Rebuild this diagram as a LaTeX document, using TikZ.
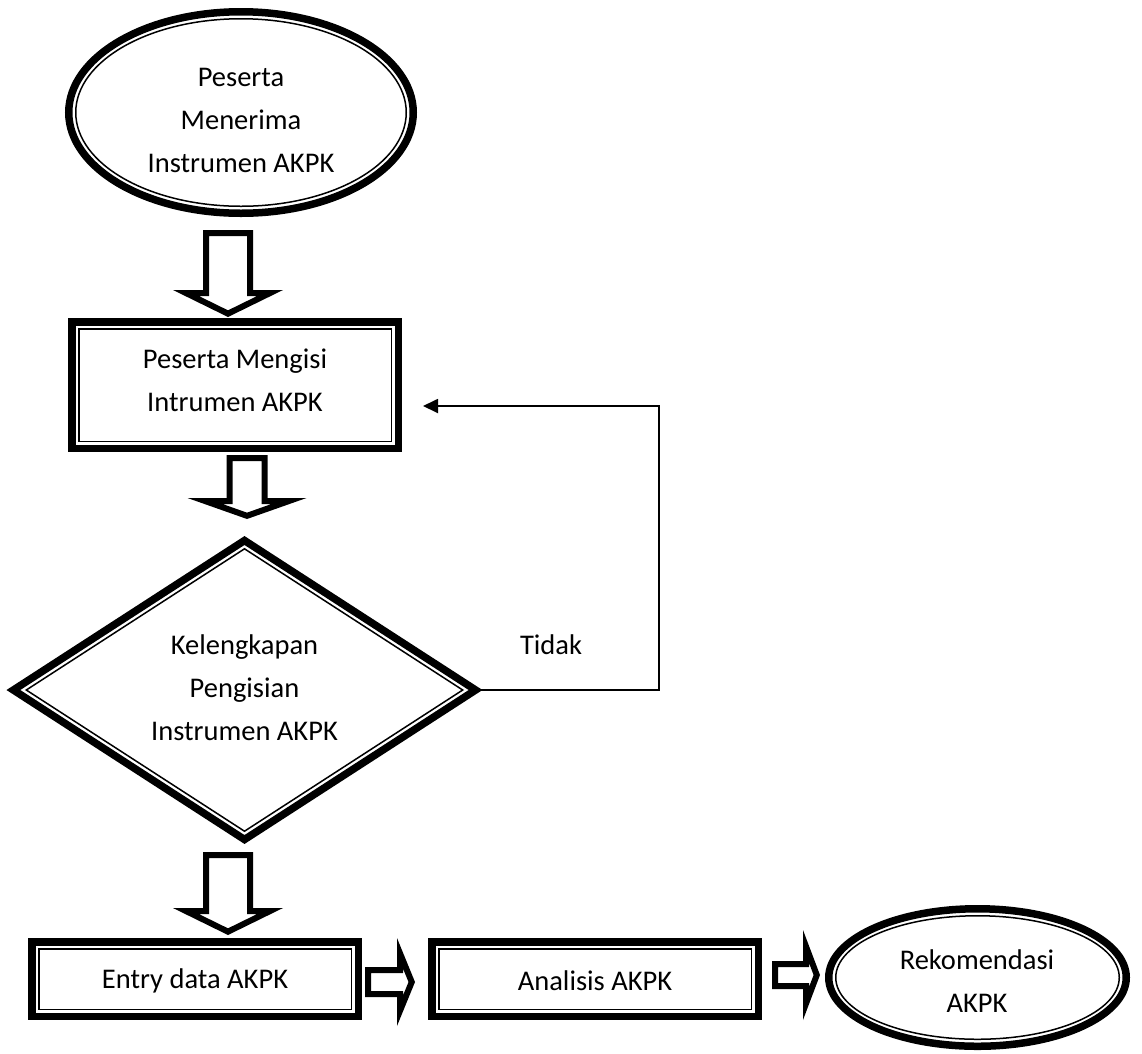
\documentclass[tikz,border=0pt]{standalone}
\usepackage{fontspec}
\setmainfont{Carlito}
\usetikzlibrary{shapes.geometric,arrows.meta,calc}
\tikzset{
  thk/.style={draw, line width=7.5pt, inner sep=0pt, outer sep=0pt},
  thn/.style={draw, line width=1.5pt, inner sep=0pt, outer sep=0pt},
  txt/.style={align=center, inner sep=0pt, font=\fontsize{28.5}{43}\selectfont},
  blk/.style={draw, line width=6pt, line join=miter, miter limit=30, fill=white},
  fb/.style={line width=1.8pt, -{Triangle[length=15pt,width=14pt]}},
  pics/bdown/.style n args={4}{code={
    \pgfmathsetmacro\bxtp{3/sin(atan(#2/#3))}
    \pgfmathsetmacro\bxcx{(#2/#3)*(#3-3-\bxtp)}
    \draw[blk] (0,-\bxtp) -- (-\bxcx,3-#3) -- (3-#1,3-#3) -- (3-#1,3-#4)
      -- (#1-3,3-#4) -- (#1-3,3-#3) -- (\bxcx,3-#3) -- cycle;
  }},
  pics/bright/.style n args={4}{code={
    \pgfmathsetmacro\bxtp{3/sin(atan(#2/#3))}
    \pgfmathsetmacro\bxcx{(#2/#3)*(#3-3-\bxtp)}
    \draw[blk] (-\bxtp,0) -- (3-#3,-\bxcx) -- (3-#3,3-#1) -- (3-#4,3-#1)
      -- (3-#4,#1-3) -- (3-#3,#1-3) -- (3-#3,\bxcx) -- cycle;
  }}
}
\begin{document}
\begin{tikzpicture}[x=1pt,y=-1pt]
\useasboundingbox (0,0) rectangle (1142,1053);
\fill[white] (0,0) rectangle (1142,1053);

% start ellipse
\node[thk, ellipse, minimum width=344.5, minimum height=201.5] (e1) at (241,112.5) {};
\node[thn, ellipse, minimum width=330.5, minimum height=187.5] (e1i) at (e1.center) {};
\node[txt] (e1t) at (241,120) {Peserta\\Menerima\\Instrumen AKPK};

% box 1
\node[thk, rectangle, minimum width=326.5, minimum height=126.5] (b1) at (235,385) {};
\node[thn, rectangle, minimum width=312.5, minimum height=112.5] (b1i) at (b1.center) {};
\node[txt] (b1t) at (235,380) {Peserta Mengisi\\Intrumen AKPK};

% decision
\node[thk, diamond, minimum width=462.2, minimum height=299] (dec) at (244.5,690) {};
\node[thn, diamond, minimum width=436.4, minimum height=282.4] (deci) at (dec.center) {};
\node[txt] (dect) at (244.5,688) {Kelengkapan\\Pengisian\\Instrumen AKPK};

% bottom row
\node[thk, rectangle, minimum width=326.5, minimum height=74.5] (b2) at (195,979) {};
\node[thn, rectangle, minimum width=312.5, minimum height=60.5] (b2i) at (b2.center) {};
\node[txt] (b2t) at (195,981) {Entry data AKPK};

\node[thk, rectangle, minimum width=326.5, minimum height=74.5] (b3) at (595,979) {};
\node[thn, rectangle, minimum width=312.5, minimum height=60.5] (b3i) at (b3.center) {};
\node[txt] (b3t) at (595,981) {Analisis AKPK};

\node[thk, ellipse, minimum width=297.5, minimum height=137.5] (e2) at (977.5,977.5) {};
\node[thn, ellipse, minimum width=283.5, minimum height=123.5] (e2i) at (e2.center) {};
\node[txt] (e2t) at (977,981) {Rekomendasi\\AKPK};

% block arrows
\coordinate (a1) at (228,317);
\pic at (a1) {bdown={25}{55}{27}{87}};
\coordinate (a2) at (247,519);
\pic at (a2) {bdown={20.5}{59.5}{21}{64}};
\coordinate (a3) at (228,935);
\pic at (a3) {bdown={25}{55}{27}{83}};
\coordinate (a4) at (415,982);
\pic at (a4) {bright={15}{44}{18}{50}};
\coordinate (a5) at (820,975);
\pic at (a5) {bright={14}{45}{17}{48}};

% feedback
\coordinate (fbc) at (659,406);
\coordinate (fbe) at (423,406);
\draw[fb] (dec.east) -- (dec.east -| fbc) -- (fbc) -- (fbe);
\node[txt] (tidak) at (551,645) {Tidak};
\end{tikzpicture}
\end{document}
